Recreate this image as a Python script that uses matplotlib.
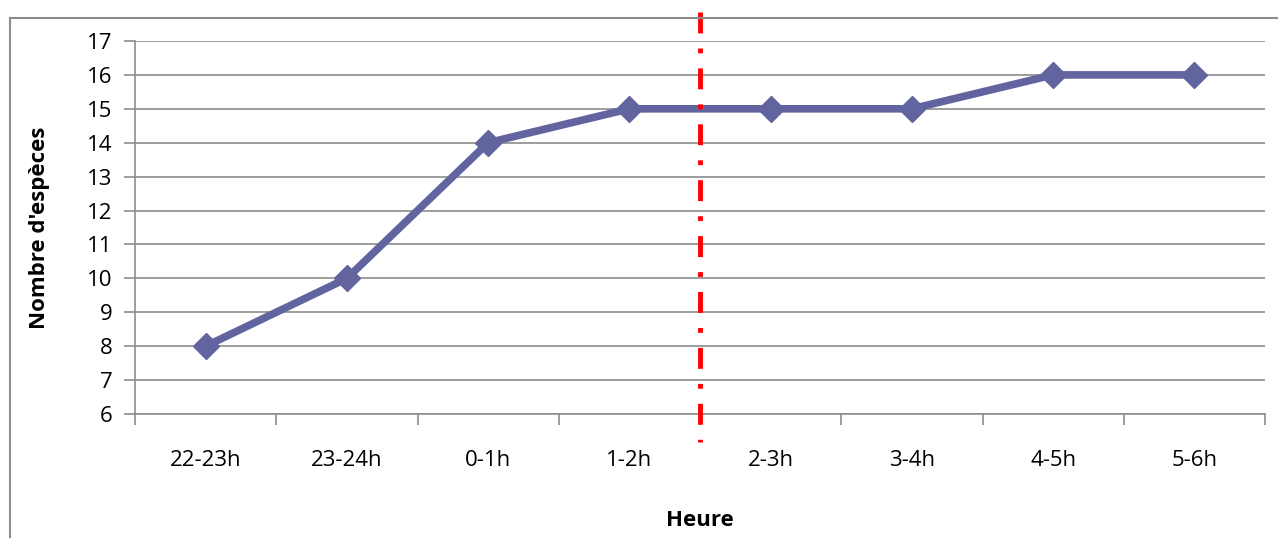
import matplotlib.pyplot as plt
from matplotlib.lines import Line2D
import numpy as np

hours = ['22-23h', '23-24h', '0-1h', '1-2h', '2-3h', '3-4h', '4-5h', '5-6h']
species = [8, 10, 14, 15, 15, 15, 16, 16]
split_at = 3.5  # between 1-2h and 2-3h

plt.rcParams['font.family'] = ['Open Sans', 'DejaVu Sans']

W, H = 1278, 538
fig = plt.figure(figsize=(W / 100, H / 100), dpi=100)
# plot area in pixels: x 135..1265, y 41..414
ax = fig.add_axes([135 / W, 1 - 414 / H, (1265 - 135) / W, (414 - 41) / H])

x = np.arange(len(hours))
ax.plot(x, species, color='#6264A0', linewidth=5.5, marker='D', markersize=13.5,
        zorder=3)

ax.set_xlim(-0.5, len(hours) - 0.5)
ax.set_ylim(6, 17)
ax.set_yticks(range(6, 18))
ax.set_xticks(x)
ax.set_xticklabels(hours)
ax.set_xticks(np.arange(-0.5, len(hours)), minor=True)

ax.yaxis.grid(True, color='#8c8c8c', linewidth=1.2)
ax.set_axisbelow(True)
for s in ['top', 'right']:
    ax.spines[s].set_visible(False)
for s in ['left', 'bottom']:
    ax.spines[s].set_color('#8c8c8c')
    ax.spines[s].set_linewidth(1.2)

ax.tick_params(axis='y', direction='out', length=8, color='#8c8c8c', width=1.2,
               labelsize=16, pad=8)
ax.tick_params(axis='x', which='major', length=0, labelsize=16, pad=26)
ax.tick_params(axis='x', which='minor', direction='out', length=8,
               color='#8c8c8c', width=1.2)

ax.set_ylabel("Nombre d'espèces", fontsize=16, fontweight='bold', va='center')
ax.yaxis.set_label_coords((40 - 135) / 1130, 0.5)
ax.set_xlabel('Heure', fontsize=16, fontweight='bold', va='center')
ax.xaxis.set_label_coords(0.5, (414 - 521) / 373)

# red dash-dot separator, sticking out of the plot area
trans = ax.get_xaxis_transform()
ax.plot([split_at, split_at], [1.078, -0.075], transform=trans, clip_on=False,
        color='#FF0000', linewidth=3.5, dashes=(4.3, 3.1, 1, 3.1), zorder=4)

# chart frame (top and left edges visible)
fig.add_artist(Line2D([10 / W, 10 / W], [0, 1 - 18 / H], color='#8c8c8c',
                      linewidth=1.5, transform=fig.transFigure))
fig.add_artist(Line2D([10 / W, 1], [1 - 18 / H, 1 - 18 / H], color='#8c8c8c',
                      linewidth=1.5, transform=fig.transFigure))

fig.savefig('out.png', dpi=100)
